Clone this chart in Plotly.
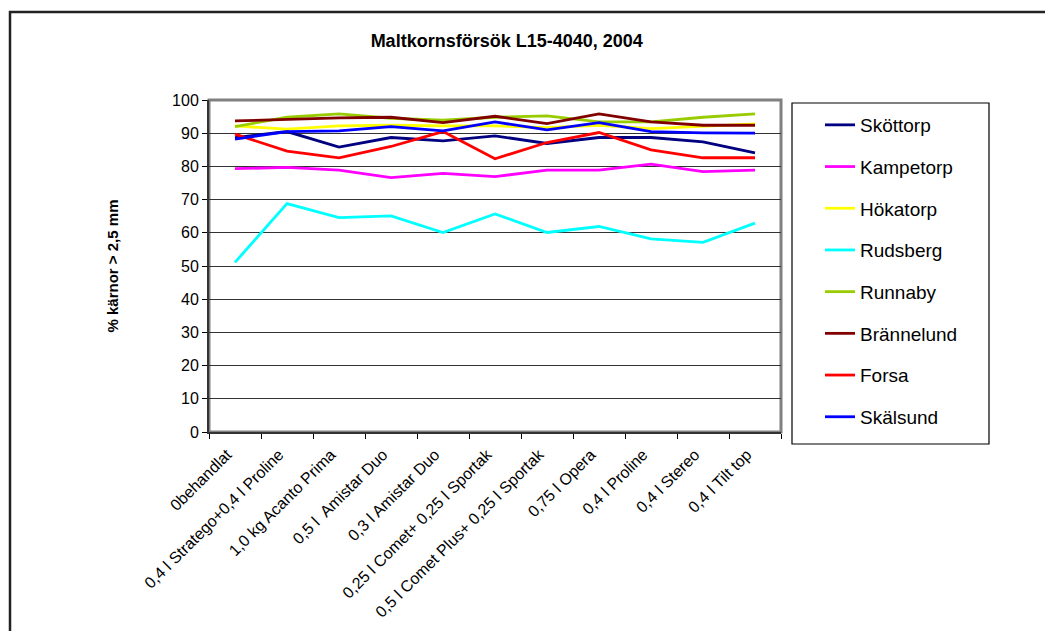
import plotly.graph_objects as go

categories = [
    "0behandlat",
    "0,4 l Stratego+0,4 l Proline",
    "1,0 kg Acanto Prima",
    "0,5 l  Amistar Duo",
    "0,3 l Amistar Duo",
    "0,25 l Comet+ 0,25 l Sportak",
    "0,5 l Comet Plus+ 0,25 l Sportak",
    "0,75 l Opera",
    "0,4 l Proline",
    "0,4 l Stereo",
    "0,4 l Tilt top",
]

skottorp = [88.7, 90.5, 85.8, 88.7, 87.7, 89.2, 86.9, 88.7, 88.7, 87.4, 84.1]
kampetorp = [79.3, 79.7, 78.9, 76.6, 77.9, 76.9, 78.9, 78.9, 80.7, 78.4, 78.9]
hokatorp = [92.2, 91.2, 92.2, 92.4, 92.2, 92.2, 91.7, 92.4, 91.4, 92.2, 92.8]
rudsberg = [51.1, 68.8, 64.6, 65.1, 60.1, 65.7, 60.1, 61.9, 58.2, 57.1, 62.9]
runnaby = [92.0, 94.8, 95.8, 94.5, 93.9, 94.8, 95.2, 93.4, 93.4, 94.8, 95.8]
brannelund = [93.7, 94.2, 94.6, 94.8, 93.2, 95.1, 92.9, 95.8, 93.4, 92.4, 92.4]
forsa = [89.7, 84.6, 82.6, 86.0, 90.5, 82.3, 87.2, 90.2, 85.0, 82.6, 82.6]
skalsund = [88.2, 90.5, 90.7, 92.0, 90.7, 93.4, 91.0, 93.2, 90.5, 90.1, 90.0]

series_names = ["Sköttorp", "Kampetorp", "Hökatorp", "Rudsberg",
                "Runnaby", "Brännelund", "Forsa", "Skälsund"]
series_values = [skottorp, kampetorp, hokatorp, rudsberg,
                 runnaby, brannelund, forsa, skalsund]
series_colors = ["#000080", "#FF00FF", "#FFFF00", "#00FFFF",
                 "#99CC00", "#800000", "#FF0000", "#0000FF"]

title_text = "Maltkornsförsök L15-4040, 2004"
y_title = "% kärnor > 2,5 mm"

# page offset (default body margin of the html page)
OFF = 8
W, H = 1053 - OFF, 631 - OFF
# plot area in page pixel coordinates
L, R, T, B = 209, 781, 100, 432

def px_x(p):
    return (p - L) / (R - L)

def px_y(p):
    return (B - p) / (B - T)

fig = go.Figure()
for i, (name, vals, col) in enumerate(zip(series_names, series_values, series_colors)):
    fig.add_trace(go.Scatter(
        x=categories, y=vals, name=name, mode="lines",
        line=dict(color=col, width=2.8), legendgroup=f"g{i}",
    ))

font_family = "Liberation Sans, Arial, sans-serif"

fig.update_layout(
    width=W, height=H,
    margin=dict(l=L - OFF, r=W - (R - OFF), t=T - OFF, b=H - (B - OFF), pad=0,
                autoexpand=False),
    paper_bgcolor="white", plot_bgcolor="white",
    font=dict(family=font_family, color="black", size=16),
    title=dict(text=f"<b>{title_text}</b>", x=(506.7 - OFF) / W, xref="container",
               xanchor="center", y=1 - (41 - OFF) / H, yref="container", yanchor="middle",
               font=dict(size=18, family=font_family, color="black")),
    showlegend=True,
    legend=dict(x=px_x(820), xanchor="left",
                y=px_y(106), yanchor="top",
                maxheight=420,
                bgcolor="rgba(0,0,0,0)", borderwidth=0,
                font=dict(size=19, family=font_family, color="black"),
                traceorder="grouped", tracegroupgap=14),
    xaxis=dict(
        type="category", tickangle=-45, tickson="boundaries",
        ticks="outside", ticklen=5, tickcolor="#000000", tickwidth=1,
        ticklabelshift=-8, ticklabelstandoff=5,
        showline=True, linecolor="#333333", linewidth=2,
        showgrid=False, zeroline=False,
        tickfont=dict(size=16, family=font_family, color="black"),
        range=[-0.5, len(categories) - 0.5],
    ),
    yaxis=dict(
        range=[0, 100], tickmode="linear", tick0=0, dtick=10,
        ticks="outside", ticklen=5, tickcolor="#000000", tickwidth=1,
        showline=True, linecolor="#333333", linewidth=2,
        showgrid=True, gridcolor="#333333", gridwidth=1, zeroline=False,
        tickfont=dict(size=16, family=font_family, color="black"),
        title=dict(text=f"<b>{y_title}</b>", standoff=50,
                   font=dict(size=15, family=font_family, color="black")),
    ),
    shapes=[
        # plot area border (gray)
        dict(type="rect", xref="paper", yref="paper", x0=0, x1=1, y0=0, y1=1,
             line=dict(color="#808080", width=3), layer="below"),
        # legend box
        dict(type="rect", xref="paper", yref="paper",
             x0=px_x(792), x1=px_x(989), y0=px_y(444), y1=px_y(103),
             line=dict(color="#000000", width=1.2), fillcolor="rgba(0,0,0,0)"),
        # outer chart frame
        dict(type="rect", xref="paper", yref="paper",
             x0=px_x(10), x1=px_x(1080), y0=px_y(660), y1=px_y(12),
             line=dict(color="#222222", width=2.5), fillcolor="rgba(0,0,0,0)"),
    ],
)

fig.write_html("out.html")
